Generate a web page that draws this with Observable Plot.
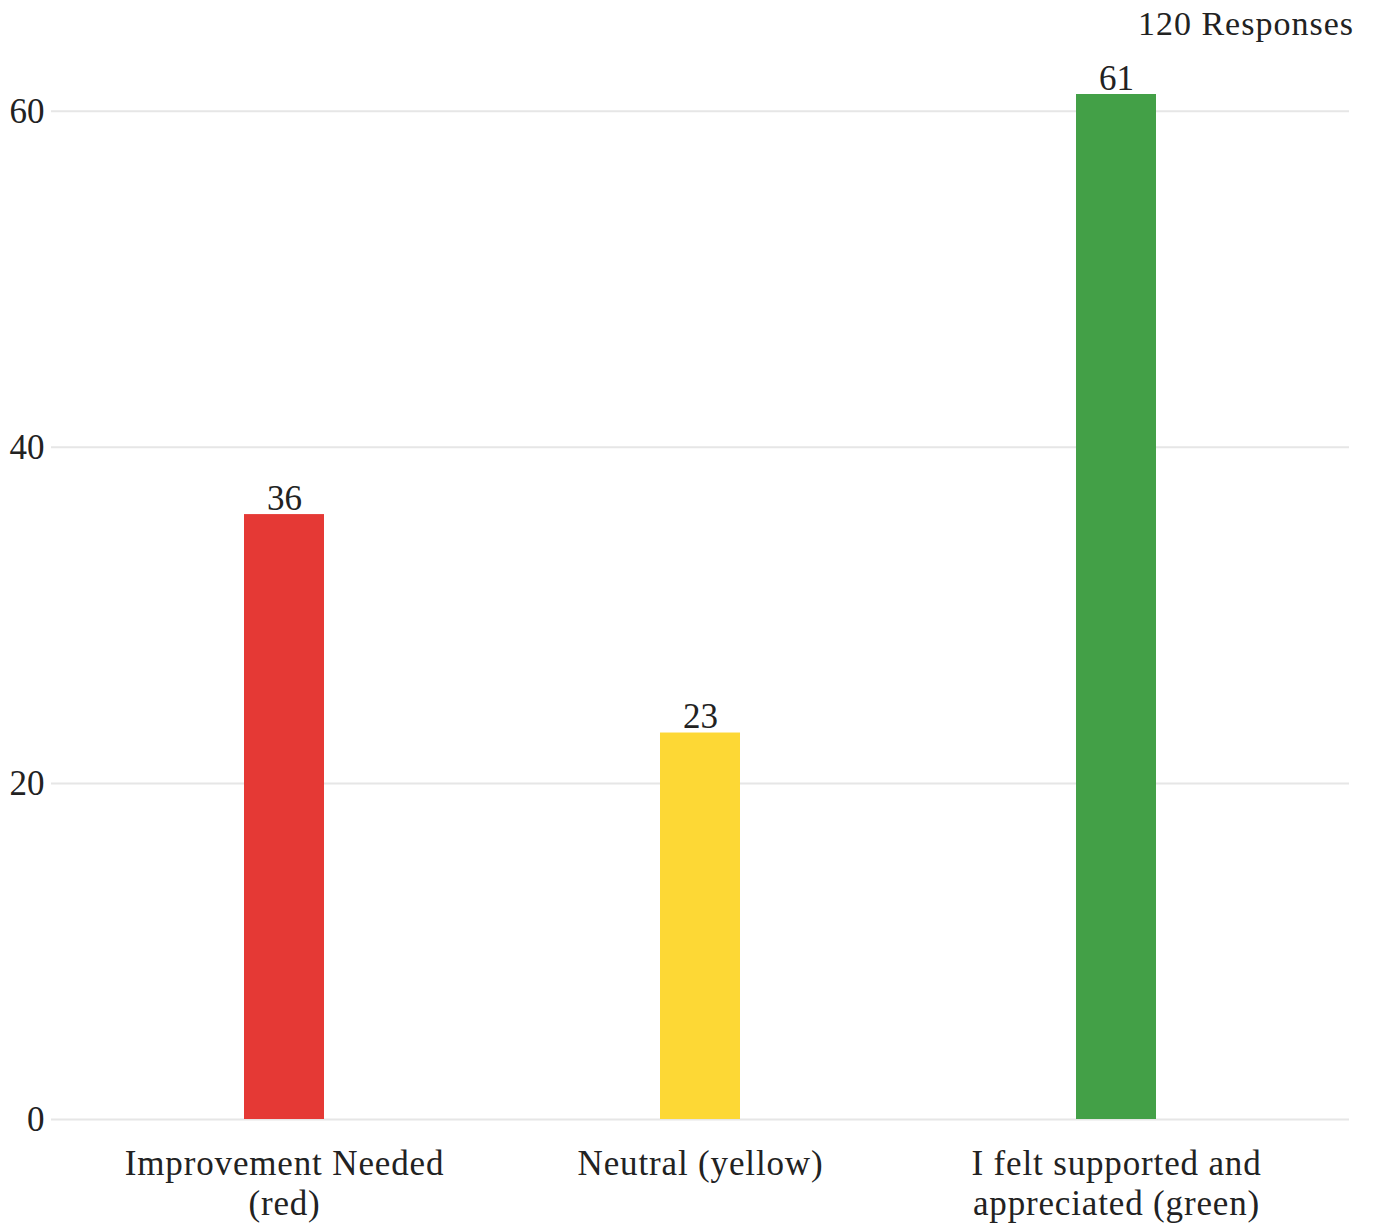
<!DOCTYPE html>
<html>
<head>
<meta charset="utf-8">
<script src="https://cdn.jsdelivr.net/npm/d3@7"></script>
<script src="https://cdn.jsdelivr.net/npm/@observablehq/plot@0.6"></script>
<style>
  html, body { margin: 0; padding: 0; background: #fff; }
  body { width: 1376px; font-family: "Liberation Serif", "DejaVu Serif", serif; color: #222; }
  #title { height: 48px; line-height: 48px; font-size: 34px; letter-spacing: 1px; text-align: right; padding-right: 22px; }
  g[aria-label="x-axis tick label"] text { letter-spacing: 0.85px; }
</style>
</head>
<body>
<div id="title">120 Responses</div>
<div id="chart"></div>
<script>
const categories = ["Improvement Needed (red)", "Neutral (yellow)", "I felt supported and appreciated (green)"];
const counts = [36, 23, 61];
const colors = ["#e53935", "#fdd835", "#43a047"];
const tickLabels = ["Improvement Needed\n(red)", "Neutral (yellow)", "I felt supported and\nappreciated (green)"];
const yTicks = [0, 20, 40, 60];

const data = categories.map((c, i) => ({category: c, count: counts[i], color: colors[i], label: tickLabels[i]}));
const labelOf = new Map(data.map(d => [d.category, d.label]));

const chart = Plot.plot({
  width: 1376,
  height: 1178,
  marginLeft: 51,
  marginRight: 27,
  marginTop: 46,
  marginBottom: 107,
  style: { fontFamily: "Liberation Serif, DejaVu Serif, serif", fontSize: "35px", color: "#222", background: "#fff" },
  x: { domain: categories, paddingInner: 0.8077, paddingOuter: 0.462, label: null },
  y: { domain: [0, 61], label: null },
  marks: [
    Plot.ruleY(yTicks, { stroke: "#e6e6e6", strokeWidth: 2 }),
    Plot.barY(data, { x: "category", y: "count", fill: "color" }),
    Plot.text(data, { x: "category", y: "count", text: d => String(d.count), lineAnchor: "bottom", dy: -5, fill: "#222", fontSize: 35 }),
    Plot.axisY({ ticks: yTicks, tickSize: 0, tickPadding: 7, fontSize: 35, fill: "#222", label: null }),
    Plot.axisX({ tickSize: 0, tickPadding: 27, tickFormat: d => labelOf.get(d), fontSize: 35, lineHeight: 1.15, fill: "#222", label: null })
  ]
});
document.getElementById("chart").appendChild(chart);
</script>
</body>
</html>
